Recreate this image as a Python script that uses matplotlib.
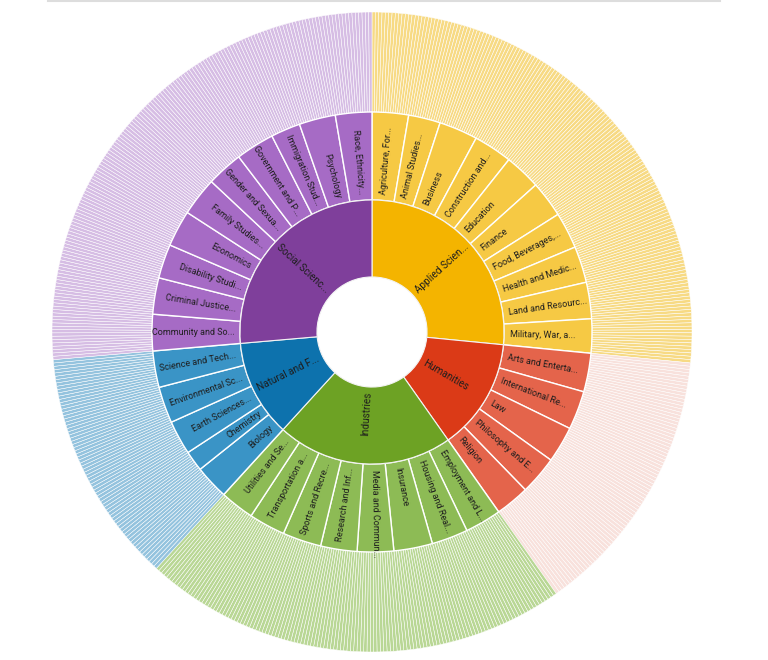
"""Sunburst of subject areas: fields, subfields and the topics inside each subfield."""

import numpy as np
import matplotlib.pyplot as plt
from matplotlib.lines import Line2D

plt.rcParams['font.family'] = ['Roboto', 'DejaVu Sans']

# top-level fields, clockwise from 12 o'clock
FIELD_LABELS = ["Applied Scien...", "Humanities", "Industries", "Natural and F...", "Social Scienc..."]

# subfields of each field, and how many topics each one holds (outer ring)
APPLIED_SUBS = ["Agriculture, For...", "Animal Studies...", "Business", "Construction and...",
                "Education", "Finance", "Food, Beverages,...", "Health and Medic...",
                "Land and Resourc...", "Military, War, a..."]
APPLIED_TOPICS = [16, 14, 17, 17, 16, 16, 16, 16, 16, 15]

HUMANITIES_SUBS = ["Arts and Enterta...", "International Re...", "Law", "Philosophy and E...", "Religion"]
HUMANITIES_TOPICS = [17, 17, 16, 17, 15]

INDUSTRIES_SUBS = ["Employment and L...", "Housing and Real...", "Insurance", "Media and Commun...",
                   "Research and Inf...", "Sports and Recre...", "Transportation a...", "Utilities and Se..."]
INDUSTRIES_TOPICS = [16, 16, 17, 16, 16, 17, 16, 15]

NATURAL_SUBS = ["Biology", "Chemistry", "Earth Sciences...", "Environmental Sc...", "Science and Tech..."]
NATURAL_TOPICS = [15, 9, 15, 16, 16]

SOCIAL_SUBS = ["Community and So...", "Criminal Justice...", "Disability Studi...", "Economics",
               "Family Studies...", "Gender and Sexua...", "Government and P...", "Immigration Stud...",
               "Psychology", "Race, Ethnicity..."]
SOCIAL_TOPICS = [16, 16, 15, 16, 17, 16, 17, 13, 16, 16]

INNER_COLORS = ['#f4b400', '#db3a17', '#6da224', '#0d72ad', '#7f3f9b']
MIDDLE_COLORS = ['#f6c944', '#e4644b', '#8dbb55', '#3a94c6', '#a66bc5']
OUTER_COLORS = ['#f7da84', '#f8e1dc', '#b9d795', '#94c3de', '#d6bde4']

# ring radii, outer ring = 1
R_HOLE = 0.172
R_INNER = 0.4125
R_MIDDLE = 0.6875
R_OUTER = 1.0


def ring_labels(ax, values, labels, r_in, pad, fontsize):
    """Write radial labels, starting just outside r_in and reading upright."""
    total = float(sum(values))
    starts = np.concatenate([[0], np.cumsum(values)[:-1]])
    for start, val, lab in zip(starts, values, labels):
        mid = 90 - (start + val / 2) / total * 360
        ang = (mid + 180) % 360 - 180
        r = r_in + pad
        x, y = r * np.cos(np.deg2rad(ang)), r * np.sin(np.deg2rad(ang))
        if -90 <= ang <= 90:
            rot, ha = ang, 'left'
        else:
            rot, ha = (ang - 180 if ang > 0 else ang + 180), 'right'
        ax.text(x, y, lab, rotation=rot, rotation_mode='anchor', ha=ha, va='center',
                fontsize=fontsize, color='#1e1e1e')


def main() -> None:
    groups = [APPLIED_TOPICS, HUMANITIES_TOPICS, INDUSTRIES_TOPICS, NATURAL_TOPICS, SOCIAL_TOPICS]
    sub_labels = APPLIED_SUBS + HUMANITIES_SUBS + INDUSTRIES_SUBS + NATURAL_SUBS + SOCIAL_SUBS

    field_values = [sum(g) for g in groups]
    sub_values = [v for g in groups for v in g]
    sub_colors = [c for g, c in zip(groups, MIDDLE_COLORS) for _ in g]
    topic_values = [1] * sum(sub_values)
    topic_colors = [c for n, c in zip(field_values, OUTER_COLORS) for _ in range(n)]

    fig = plt.figure(figsize=(7.68, 6.6), dpi=100)
    ax = fig.add_axes([0, 0, 1, 1])

    ax.pie(topic_values, radius=R_OUTER, colors=topic_colors, startangle=90, counterclock=False,
           wedgeprops=dict(width=R_OUTER - R_MIDDLE, edgecolor='white', linewidth=0.35))
    ax.pie(sub_values, radius=R_MIDDLE, colors=sub_colors, startangle=90, counterclock=False,
           wedgeprops=dict(width=R_MIDDLE - R_INNER, edgecolor='white', linewidth=1.0))
    ax.pie(field_values, radius=R_INNER, colors=INNER_COLORS, startangle=90, counterclock=False,
           wedgeprops=dict(width=R_INNER - R_HOLE, edgecolor='#f3f3f3', linewidth=0.8))

    ring_labels(ax, field_values, FIELD_LABELS, R_HOLE, 0.016, 7.2)
    ring_labels(ax, sub_values, sub_labels, R_INNER, 0.018, 6.5)

    # centre of the chart sits at (372, 332) px with outer radius 320 px
    ax.set_xlim(-372 / 320, 396 / 320)
    ax.set_ylim(-328 / 320, 332 / 320)
    ax.set_aspect('equal')
    ax.axis('off')

    fig.add_artist(Line2D([48 / 768, 720 / 768], [1 - 1 / 660, 1 - 1 / 660],
                          transform=fig.transFigure, color='#dddddd', linewidth=1.5))

    fig.savefig('out.png', dpi=100)


if __name__ == "__main__":
    main()
